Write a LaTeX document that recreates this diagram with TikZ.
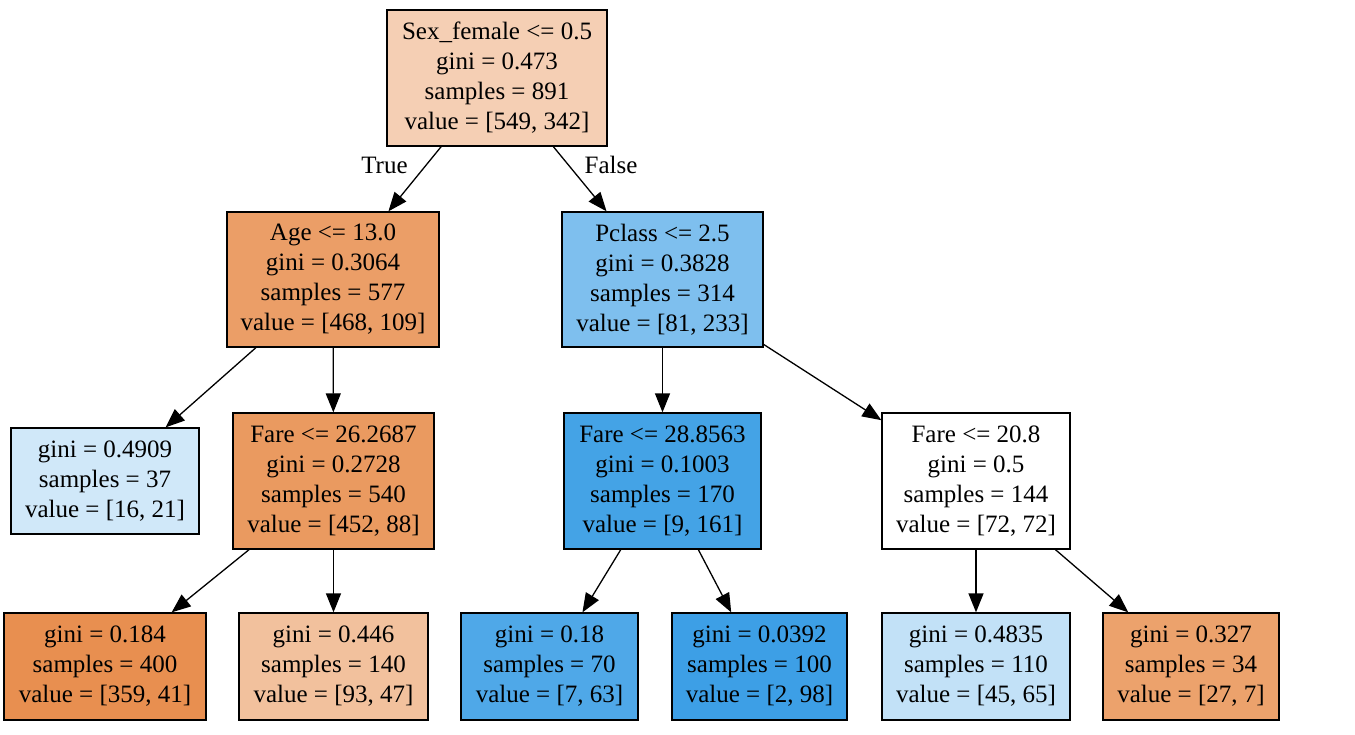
\documentclass[tikz,border=0pt]{standalone}
\usepackage{fontspec}
\setmainfont{Liberation Serif}
\usetikzlibrary{arrows.meta}

% class colours blended with white by node purity
\definecolor{cRoot}{RGB}{245,207,180}
\definecolor{cAge}{RGB}{235,158,103}
\definecolor{cPclass}{RGB}{126,191,238}
\definecolor{cLeafA}{RGB}{208,232,249}
\definecolor{cFareA}{RGB}{234,154,96}
\definecolor{cFareB}{RGB}{68,163,230}
\definecolor{cLeafB}{RGB}{232,143,80}
\definecolor{cLeafC}{RGB}{242,193,157}
\definecolor{cLeafD}{RGB}{79,168,232}
\definecolor{cLeafE}{RGB}{61,159,230}
\definecolor{cLeafF}{RGB}{194,225,247}
\definecolor{cLeafG}{RGB}{236,162,108}

\tikzset{
  treebox/.style={draw=black, line width=1.3pt, inner sep=0pt, align=center,
    font=\fontsize{25}{30}\selectfont},
  split/.style={treebox, minimum height=136pt},
  leaf/.style={treebox, minimum height=106pt},
  edge/.style={line width=1.3pt, -{Triangle[length=19pt,width=15pt]}},
  edgelabel/.style={font=\fontsize{25}{30}\selectfont, anchor=base}
}

\begin{document}
\begin{tikzpicture}[x=1pt, y=-1pt]
\useasboundingbox (0,0) rectangle (1355,735);

% decision nodes
\node[split, fill=cRoot, minimum width=220pt] (root) at (497,78)
  {Sex\_female <= 0.5\\gini = 0.473\\samples = 891\\value = [549, 342]};
\node[split, fill=cAge, minimum width=212pt, minimum height=135pt] (age) at (333,279.5)
  {Age <= 13.0\\gini = 0.3064\\samples = 577\\value = [468, 109]};
\node[split, fill=cPclass, minimum width=201pt, minimum height=135pt] (pclass) at (662.5,279.5)
  {Pclass <= 2.5\\gini = 0.3828\\samples = 314\\value = [81, 233]};
\node[split, fill=cFareA, minimum width=201pt] (fareA) at (333.5,481)
  {Fare <= 26.2687\\gini = 0.2728\\samples = 540\\value = [452, 88]};
\node[split, fill=cFareB, minimum width=197pt] (fareB) at (662.5,481)
  {Fare <= 28.8563\\gini = 0.1003\\samples = 170\\value = [9, 161]};
\node[split, fill=white, minimum width=188pt] (fareC) at (976,481)
  {Fare <= 20.8\\gini = 0.5\\samples = 144\\value = [72, 72]};

% leaves
\node[leaf, fill=cLeafA, minimum width=188pt] (leafA) at (105,481)
  {gini = 0.4909\\samples = 37\\value = [16, 21]};
\node[leaf, fill=cLeafB, minimum width=202pt, minimum height=107pt] (leafB) at (105,666.5)
  {gini = 0.184\\samples = 400\\value = [359, 41]};
\node[leaf, fill=cLeafC, minimum width=189pt, minimum height=107pt] (leafC) at (333.5,666.5)
  {gini = 0.446\\samples = 140\\value = [93, 47]};
\node[leaf, fill=cLeafD, minimum width=177pt, minimum height=107pt] (leafD) at (549.5,666.5)
  {gini = 0.18\\samples = 70\\value = [7, 63]};
\node[leaf, fill=cLeafE, minimum width=175pt, minimum height=107pt] (leafE) at (759.5,666.5)
  {gini = 0.0392\\samples = 100\\value = [2, 98]};
\node[leaf, fill=cLeafF, minimum width=188pt, minimum height=107pt] (leafF) at (976,666.5)
  {gini = 0.4835\\samples = 110\\value = [45, 65]};
\node[leaf, fill=cLeafG, minimum width=176pt, minimum height=107pt] (leafG) at (1191,666.5)
  {gini = 0.327\\samples = 34\\value = [27, 7]};

% edges
\draw[edge] (root) -- (age);
\draw[edge] (root) -- (pclass);
\draw[edge] (age) -- (leafA);
\draw[edge] (age) -- (fareA);
\draw[edge] (pclass) -- (fareB);
\draw[edge] (pclass) -- (fareC);
\draw[edge] (fareA) -- (leafB);
\draw[edge] (fareA) -- (leafC);
\draw[edge] (fareB) -- (leafD);
\draw[edge] (fareB) -- (leafE);
\draw[edge] (fareC) -- (leafF);
\draw[edge] (fareC) -- (leafG);

% branch labels
\node[edgelabel] (lblTrue) at (384.5,174) {True};
\node[edgelabel] (lblFalse) at (611,174) {False};
\end{tikzpicture}
\end{document}
